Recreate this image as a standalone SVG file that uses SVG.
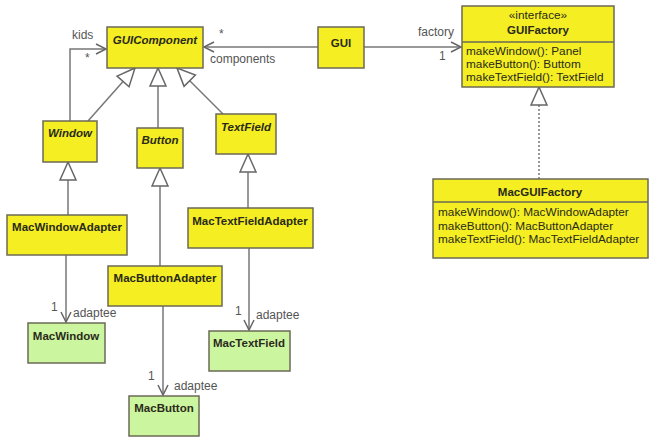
<svg xmlns="http://www.w3.org/2000/svg" width="654" height="441" viewBox="0 0 654 441">
<defs>
<style>
.y{fill:#f4ee22;stroke:#6b6a55;stroke-width:1.5}
.g{fill:#ccf5a0;stroke:#6b6a55;stroke-width:1.5}
.t{font-family:"Liberation Sans",Arial,sans-serif;font-weight:bold;font-size:11.5px;fill:#2a2a1a;text-anchor:middle}
.ti{font-style:italic}
.m{font-family:"Liberation Sans",Arial,sans-serif;font-size:11.8px;fill:#2a2a1a}
.l{font-family:"Liberation Sans",Arial,sans-serif;font-size:12px;fill:#555}
.c{fill:none;stroke:#777;stroke-width:1.5}
.d{stroke-dasharray:2,2}
</style>
<marker id="open" markerUnits="userSpaceOnUse" markerWidth="12" markerHeight="12" refX="10" refY="5" orient="auto" overflow="visible">
<path d="M0,0 L10,5 L0,10" fill="none" stroke="#666" stroke-width="1.5"/>
</marker>
<marker id="tri" markerUnits="userSpaceOnUse" markerWidth="20" markerHeight="18" refX="19" refY="8" orient="auto" overflow="visible">
<path d="M1,0 L19,8 L1,16 z" fill="#fff" stroke="#666" stroke-width="1.5"/>
</marker>
</defs>
<rect width="654" height="441" fill="#fff"/>
<g id="connectors">
<path class="c" d="M318,47 L204,47" marker-end="url(#open)"/>
<path class="c" d="M364,47 L461,47" marker-end="url(#open)"/>
<path class="c" d="M70,121 L70,49 L106,49" marker-end="url(#open)"/>
<path class="c" d="M88,121 L135,68" marker-end="url(#tri)"/>
<path class="c" d="M158,128 L158,68" marker-end="url(#tri)"/>
<path class="c" d="M223,114 L177,68" marker-end="url(#tri)"/>
<path class="c" d="M68,215 L68,162" marker-end="url(#tri)"/>
<path class="c" d="M160,266 L160,168" marker-end="url(#tri)"/>
<path class="c" d="M248,208 L248,154" marker-end="url(#tri)"/>
<path class="c d" d="M539,179 L539,87" marker-end="url(#tri)"/>
<path class="c" d="M66,255 L66,322" marker-end="url(#open)"/>
<path class="c" d="M163,306 L163,395" marker-end="url(#open)"/>
<path class="c" d="M249,248 L249,330" marker-end="url(#open)"/>
<text class="l" x="72" y="39">kids</text>
<text class="l" x="85" y="62">*</text>
<text class="l" x="219" y="38">*</text>
<text class="l" x="210" y="63">components</text>
<text class="l" x="418" y="36">factory</text>
<text class="l" x="439" y="60">1</text>
<text class="l" x="51" y="311">1</text>
<text class="l" x="73" y="317">adaptee</text>
<text class="l" x="148" y="380">1</text>
<text class="l" x="174" y="390">adaptee</text>
<text class="l" x="235" y="315">1</text>
<text class="l" x="256" y="319">adaptee</text>
</g>
<g id="GUIComponent">
<rect class="y" x="107" y="27" width="96" height="41"/>
<text class="t ti" x="155" y="44">GUIComponent</text>
</g>
<g id="GUI">
<rect class="y" x="318" y="27" width="46" height="41"/>
<text class="t" x="341" y="47">GUI</text>
</g>
<g id="GUIFactory">
<rect class="y" x="462" y="6" width="152" height="81"/>
<line x1="462" y1="42" x2="614" y2="42" stroke="#6b6a55" stroke-width="1.5"/>
<text class="m" x="538" y="19" text-anchor="middle" font-size="10px">«interface»</text>
<text class="t" x="538" y="34">GUIFactory</text>
<text class="m" x="466" y="55">makeWindow(): Panel</text>
<text class="m" x="466" y="68">makeButton(): Buttom</text>
<text class="m" x="466" y="81">makeTextField(): TextField</text>
</g>
<g id="MacGUIFactory">
<rect class="y" x="433" y="179" width="215" height="79"/>
<line x1="433" y1="202" x2="648" y2="202" stroke="#6b6a55" stroke-width="1.5"/>
<text class="t" x="540" y="196">MacGUIFactory</text>
<text class="m" x="438" y="216">makeWindow(): MacWindowAdapter</text>
<text class="m" x="438" y="230">makeButton(): MacButtonAdapter</text>
<text class="m" x="438" y="243">makeTextField(): MacTextFieldAdapter</text>
</g>
<g id="Window">
<rect class="y" x="43" y="121" width="54" height="41"/>
<text class="t ti" x="70" y="137">Window</text>
</g>
<g id="Button">
<rect class="y" x="137" y="128" width="46" height="40"/>
<text class="t ti" x="160" y="144">Button</text>
</g>
<g id="TextField">
<rect class="y" x="216" y="114" width="60" height="40"/>
<text class="t ti" x="246" y="131">TextField</text>
</g>
<g id="MacWindowAdapter">
<rect class="y" x="7" y="215" width="120" height="40"/>
<text class="t" x="67" y="231">MacWindowAdapter</text>
</g>
<g id="MacButtonAdapter">
<rect class="y" x="108" y="266" width="114" height="40"/>
<text class="t" x="165" y="282">MacButtonAdapter</text>
</g>
<g id="MacTextFieldAdapter">
<rect class="y" x="188" y="208" width="125" height="40"/>
<text class="t" x="250" y="225">MacTextFieldAdapter</text>
</g>
<g id="MacWindow">
<rect class="g" x="28" y="323" width="77" height="40"/>
<text class="t" x="66" y="340">MacWindow</text>
</g>
<g id="MacButton">
<rect class="g" x="129" y="396" width="70" height="40"/>
<text class="t" x="164" y="412">MacButton</text>
</g>
<g id="MacTextField">
<rect class="g" x="209" y="331" width="81" height="40"/>
<text class="t" x="249" y="347">MacTextField</text>
</g>
</svg>
